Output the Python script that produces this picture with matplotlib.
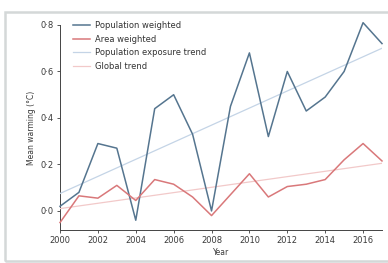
import matplotlib
matplotlib.use("Agg")
import matplotlib.pyplot as plt
from matplotlib.patches import Rectangle
from matplotlib.ticker import FuncFormatter

years = list(range(2000, 2018))
pop_weighted = [0.02, 0.08, 0.29, 0.27, -0.04, 0.44, 0.50, 0.33, 0.00, 0.45, 0.68, 0.32,
                0.60, 0.43, 0.49, 0.60, 0.81, 0.72]
area_weighted = [-0.05, 0.065, 0.055, 0.11, 0.045, 0.135, 0.115, 0.06, -0.02, 0.07, 0.16, 0.06,
                 0.105, 0.115, 0.135, 0.22, 0.29, 0.215]
pop_trend_ends = [0.075, 0.70]
global_trend_ends = [0.01, 0.205]
trend_years = [2000, 2017]
labels = ["Population weighted", "Area weighted", "Population exposure trend", "Global trend"]

fig = plt.figure(figsize=(3.88, 2.63), dpi=100)
fig.patches.append(Rectangle((5/388, 1-261/263), 1.2, (261-12)/263, transform=fig.transFigure,
                             fill=False, edgecolor="#d4d8d8", linewidth=1.8))
ax = fig.add_axes([60/388, 1-230/263, (382-60)/388, 205/263])

c_pop = "#55758f"
c_area = "#d9787a"
c_ptrend = "#c4d4e6"
c_gtrend = "#f2c9c9"
ax.plot(years, pop_weighted, color=c_pop, lw=1.1, label=labels[0], clip_on=False, zorder=4)
ax.plot(years, area_weighted, color=c_area, lw=1.1, label=labels[1], clip_on=False, zorder=4)
ax.plot(trend_years, pop_trend_ends, color=c_ptrend, lw=0.9, label=labels[2], zorder=3)
ax.plot(trend_years, global_trend_ends, color=c_gtrend, lw=0.9, label=labels[3], zorder=3)

ax.set_xlim(2000, 2017)
ax.set_ylim(-0.082, 0.8)
ax.set_xticks(range(2000, 2017, 2))
ax.set_yticks([0.0, 0.2, 0.4, 0.6, 0.8])
ax.yaxis.set_major_formatter(FuncFormatter(lambda v, p: f"{v:.1f}".replace(".", "·")))
for s in ["top", "right"]:
    ax.spines[s].set_visible(False)
for s in ["left", "bottom"]:
    ax.spines[s].set_color("#444444")
    ax.spines[s].set_linewidth(0.7)
ax.tick_params(labelsize=6, length=2.5, width=0.6, colors="#3a3a3a", pad=2)
ax.set_xlabel("Year", fontsize=5.5, color="#3a3a3a", labelpad=2)
ax.set_ylabel("Mean warming (°C)", fontsize=5.5, color="#3a3a3a", labelpad=3)
ax.legend(loc="upper left", bbox_to_anchor=(0.03, 1.035), frameon=False, fontsize=6,
          handlelength=2.0, handletextpad=0.6, labelspacing=0.55, borderaxespad=0,
          labelcolor="#333333")
fig.savefig("out.png", dpi=100)
